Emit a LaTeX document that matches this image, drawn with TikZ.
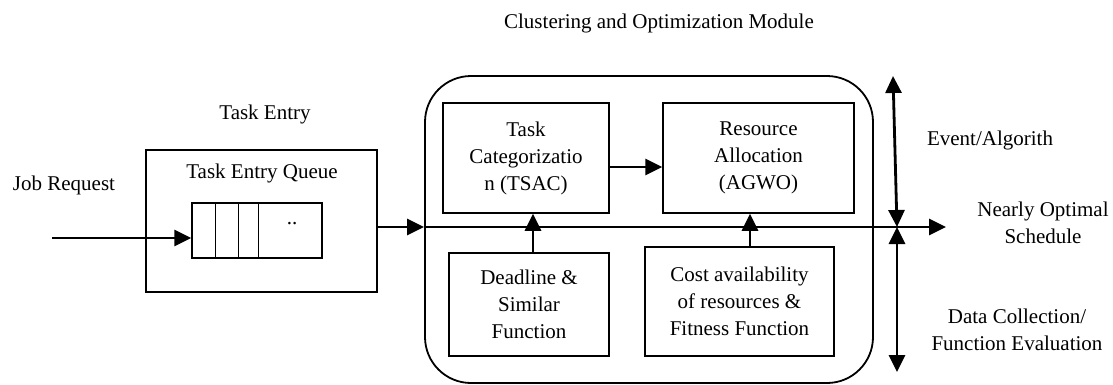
\documentclass[tikz,border=0pt]{standalone}
\usepackage{fontspec}
\setmainfont{Liberation Serif}
\usetikzlibrary{arrows.meta}
\tikzset{
  blk/.style={draw, line width=1.5pt, inner sep=0pt, align=center},
  lbl/.style={align=center, inner sep=0pt},
  arr/.style={line width=2.8pt, -{Triangle[length=17pt,width=16pt]}},
  darr/.style={line width=2.8pt, {Triangle[length=17pt,width=16pt]}-{Triangle[length=17pt,width=16pt]}},
}
\begin{document}
\begin{tikzpicture}[x=1pt,y=-1pt,font=\fontsize{21}{27}\selectfont]
\useasboundingbox (0,0) rectangle (1113,384);

% task entry stage
\node[lbl] (tentry) at (265,114) {Task Entry};
\node[blk, minimum width=231pt, minimum height=142pt] (entry) at (261.5,221) {};
\node[lbl] (tqueue) at (262,173) {Task Entry Queue};
\node[blk, minimum width=130pt, minimum height=55pt] (queue) at (257,230.5) {};
\draw[line width=1.5pt] ([xshift=24pt]queue.north west) -- ([xshift=24pt]queue.south west)
  ([xshift=47pt]queue.north west) -- ([xshift=47pt]queue.south west)
  ([xshift=67pt]queue.north west) -- ([xshift=67pt]queue.south west);
\node[lbl] (dots) at (292,224) {..};
\node[lbl] (job) at (64,185) {Job Request};
\coordinate (jobin) at (52,238);
\draw[arr] (jobin) -- (jobin -| queue.west);

% clustering and optimization module
\node[lbl] (ctitle) at (659,23) {Clustering and Optimization Module};
\node[draw, line width=1.8pt, rounded corners=46pt, minimum width=448pt, minimum height=307pt] (module) at (649,229.5) {};
\node[blk, minimum width=166pt, minimum height=110pt] (tc) at (526,158) {Task\\Categorizatio\\n (TSAC)};
\node[blk, minimum width=191pt, minimum height=110pt] (ra) at (758.5,158) {Resource\\Allocation\\(AGWO)};
\node[blk, minimum width=160pt, minimum height=103pt] (dl) at (529,304.5) {Deadline \&\\Similar\\Function};
\node[blk, minimum width=189pt, minimum height=109pt] (cost) at (739.5,301.5) {Cost availability\\of resources \&\\Fitness Function};

\draw[arr] ([yshift=-9pt]tc.east) -- ([yshift=-9pt]tc.east -| ra.west);
\draw[arr] ([xshift=4pt]dl.north) -- ([xshift=4pt]dl.north |- tc.south);
\draw[arr] ([xshift=10.5pt]cost.north) -- ([xshift=10.5pt]cost.north |- ra.south);

% main flow line
\coordinate (out) at (946,227);
\draw[arr] (entry.east |- out) -- (module.west |- out);
\draw[arr] (module.west |- out) -- (out);

% layer arrows on the right
\coordinate (ltop) at (893,76);
\coordinate (lmid) at (897,227);
\coordinate (lbot) at (897,372);
\draw[darr] (ltop) -- (lmid);
\draw[darr] (lmid) -- (lbot);

\node[lbl] (event) at (990,140) {Event/Algorith};
\node[lbl] (sched) at (1043,223) {Nearly Optimal\\Schedule};
\node[lbl] (data) at (1017,330) {Data Collection/\\Function Evaluation};
\end{tikzpicture}
\end{document}
